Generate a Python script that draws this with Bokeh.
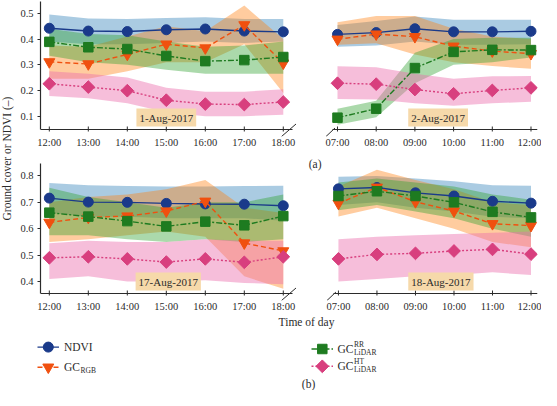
import numpy as np
from bokeh.plotting import figure
from bokeh.layouts import row, column
from bokeh.models import FixedTicker, Label, Range1d
from bokeh.core.properties import value
from bokeh.embed import file_html
from bokeh.resources import INLINE

FONT = "Liberation Serif"
INK = "#2b2b2b"

# ---------------- data ----------------
hours_pm = [12, 13, 14, 15, 16, 17, 18]
ticks_pm = ["12:00", "13:00", "14:00", "15:00", "16:00", "17:00", "18:00"]
hours_am = [7, 8, 9, 10, 11, 12]
ticks_am = ["07:00", "08:00", "09:00", "10:00", "11:00", "12:00"]
dates = ["1-Aug-2017", "2-Aug-2017", "17-Aug-2017", "18-Aug-2017"]
yticks_top = [0.1, 0.2, 0.3, 0.4, 0.5]
yticks_bot = [0.4, 0.5, 0.6, 0.7, 0.8]

# 1-Aug-2017
ndvi1 = [0.442, 0.431, 0.429, 0.436, 0.439, 0.431, 0.428]
ndvi1_lo = [0.39, 0.38, 0.38, 0.385, 0.39, 0.385, 0.39]
ndvi1_hi = [0.495, 0.48, 0.478, 0.482, 0.485, 0.478, 0.478]
rgb1 = [0.311, 0.303, 0.34, 0.38, 0.365, 0.455, 0.306]
rgb1_lo = [0.245, 0.245, 0.275, 0.31, 0.31, 0.38, 0.19]
rgb1_hi = [0.375, 0.37, 0.41, 0.45, 0.43, 0.53, 0.40]
rr1 = [0.389, 0.368, 0.361, 0.334, 0.314, 0.318, 0.33]
rr1_lo = [0.335, 0.31, 0.30, 0.28, 0.265, 0.265, 0.265]
rr1_hi = [0.44, 0.42, 0.415, 0.39, 0.37, 0.375, 0.39]
ht1 = [0.226, 0.213, 0.199, 0.162, 0.147, 0.145, 0.155]
ht1_lo = [0.178, 0.17, 0.15, 0.115, 0.10, 0.10, 0.105]
ht1_hi = [0.275, 0.265, 0.25, 0.21, 0.195, 0.195, 0.205]

# 2-Aug-2017
ndvi2 = [0.418, 0.425, 0.44, 0.428, 0.428, 0.43]
ndvi2_lo = [0.37, 0.375, 0.39, 0.378, 0.378, 0.38]
ndvi2_hi = [0.455, 0.47, 0.488, 0.475, 0.475, 0.475]
rgb2 = [0.399, 0.419, 0.409, 0.372, 0.353, 0.343]
rgb2_lo = [0.378, 0.384, 0.34, 0.31, 0.295, 0.284]
rgb2_hi = [0.465, 0.49, 0.49, 0.44, 0.41, 0.40]
rr2 = [0.094, 0.129, 0.287, 0.35, 0.358, 0.357]
rr2_lo = [0.066, 0.096, 0.228, 0.30, 0.31, 0.328]
rr2_hi = [0.129, 0.16, 0.347, 0.40, 0.405, 0.405]
ht2 = [0.228, 0.2245, 0.2035, 0.187, 0.20, 0.21]
ht2_lo = [0.167, 0.165, 0.15, 0.14, 0.15, 0.156]
ht2_hi = [0.294, 0.29, 0.265, 0.245, 0.255, 0.256]

# 17-Aug-2017
ndvi3 = [0.716, 0.701, 0.70, 0.696, 0.694, 0.693, 0.687]
ndvi3_lo = [0.66, 0.645, 0.645, 0.64, 0.64, 0.64, 0.63]
ndvi3_hi = [0.773, 0.765, 0.762, 0.76, 0.76, 0.762, 0.763]
rgb3 = [0.624, 0.643, 0.648, 0.667, 0.704, 0.546, 0.516]
rgb3_lo = [0.55, 0.56, 0.575, 0.59, 0.57, 0.42, 0.373]
rgb3_hi = [0.70, 0.72, 0.73, 0.75, 0.785, 0.68, 0.66]
rr3 = [0.661, 0.646, 0.629, 0.609, 0.627, 0.613, 0.648]
rr3_lo = [0.575, 0.575, 0.56, 0.55, 0.56, 0.55, 0.56]
rr3_hi = [0.755, 0.72, 0.70, 0.68, 0.70, 0.70, 0.73]
ht3 = [0.49, 0.494, 0.486, 0.474, 0.486, 0.473, 0.494]
ht3_lo = [0.41, 0.42, 0.40, 0.40, 0.405, 0.395, 0.39]
ht3_hi = [0.545, 0.555, 0.55, 0.55, 0.56, 0.555, 0.555]

# 18-Aug-2017
ndvi4 = [0.751, 0.756, 0.736, 0.724, 0.704, 0.697]
ndvi4_lo = [0.69, 0.70, 0.68, 0.665, 0.645, 0.64]
ndvi4_hi = [0.797, 0.80, 0.79, 0.78, 0.765, 0.763]
rgb4 = [0.696, 0.757, 0.702, 0.667, 0.619, 0.612]
rgb4_lo = [0.646, 0.68, 0.64, 0.60, 0.55, 0.53]
rgb4_hi = [0.76, 0.823, 0.785, 0.75, 0.70, 0.69]
rr4 = [0.724, 0.742, 0.724, 0.70, 0.664, 0.643]
rr4_lo = [0.67, 0.69, 0.665, 0.64, 0.60, 0.57]
rr4_hi = [0.775, 0.79, 0.775, 0.76, 0.73, 0.71]
ht4 = [0.486, 0.503, 0.507, 0.516, 0.522, 0.504]
ht4_lo = [0.40, 0.41, 0.42, 0.425, 0.435, 0.425]
ht4_hi = [0.56, 0.57, 0.575, 0.58, 0.585, 0.59]

# ---------------- styles ----------------
ORDER = ["ndvi", "rgb", "rr", "ht"]
STYLE = {
    "ndvi": dict(color="#1a3a8a", band="#1f77b4", alpha=0.38, marker="circle", size=10, angle=0.0, dash="solid"),
    "rgb": dict(color="#f0500f", band="#ff7f0e", alpha=0.40, marker="inverted_triangle", size=11, angle=0.0, dash="5 3"),
    "rr": dict(color="#1e7b20", band="#2ca02c", alpha=0.40, marker="square", size=9.5, angle=0.0, dash="6 2 2 2"),
    "ht": dict(color="#d83f7e", band="#ec6fae", alpha=0.45, marker="square", size=9, angle=np.pi / 4, dash="2 2"),
}


def pack(mid, lo, hi):
    return dict(mid=mid, lo=lo, hi=hi)


panel_data = [
    dict(ndvi=pack(ndvi1, ndvi1_lo, ndvi1_hi), rgb=pack(rgb1, rgb1_lo, rgb1_hi),
         rr=pack(rr1, rr1_lo, rr1_hi), ht=pack(ht1, ht1_lo, ht1_hi)),
    dict(ndvi=pack(ndvi2, ndvi2_lo, ndvi2_hi), rgb=pack(rgb2, rgb2_lo, rgb2_hi),
         rr=pack(rr2, rr2_lo, rr2_hi), ht=pack(ht2, ht2_lo, ht2_hi)),
    dict(ndvi=pack(ndvi3, ndvi3_lo, ndvi3_hi), rgb=pack(rgb3, rgb3_lo, rgb3_hi),
         rr=pack(rr3, rr3_lo, rr3_hi), ht=pack(ht3, ht3_lo, ht3_hi)),
    dict(ndvi=pack(ndvi4, ndvi4_lo, ndvi4_hi), rgb=pack(rgb4, rgb4_lo, rgb4_hi),
         rr=pack(rr4, rr4_lo, rr4_hi), ht=pack(ht4, ht4_lo, ht4_hi)),
]

# ---------------- geometry ----------------
XR_PM = (11.774, 18.236)     # visible axis extent, left panels
XR_AM = (6.871, 12.168)      # visible axis extent, right panels
YR_TOP = (0.048, 0.546)
YR_BOT = (0.355, 0.847)

L_W, R_W = 289, 236          # figure widths
L_FW, R_FW = 252, 205        # visible frame widths
T_H, B_H = 152, 162          # figure heights
T_FH, B_FH = 128, 130        # visible frame heights
T_BT, B_BT = 1, 11           # top borders
EXT_B = 7                    # frame extension below axis (room for break marks)
EXT_R = 4                    # left panels: extension to the right
EXT_L = 8                    # right panels: extension to the left
L_BL = 24
R_BR = 4


def style_xaxis(ax):
    ax.axis_line_color = None
    ax.major_tick_line_color = None
    ax.minor_tick_line_color = None
    ax.major_tick_out = 0
    ax.major_tick_in = 0
    ax.major_label_text_font = FONT
    ax.major_label_text_font_size = "10.5px"
    ax.major_label_text_color = INK
    ax.major_label_standoff = 0


def style_yaxis(ax):
    ax.axis_line_color = INK
    ax.axis_line_width = 1.2
    ax.major_tick_line_color = INK
    ax.major_tick_out = 3
    ax.major_tick_in = 0
    ax.minor_tick_line_color = None
    ax.major_label_text_font = FONT
    ax.major_label_text_font_size = "10.5px"
    ax.major_label_text_color = INK
    ax.major_label_standoff = 4


def panel(hours, ticks, data, xr_vis, yr_vis, yticks, width, height, fw, fh, bt,
          left_side, date, date_x):
    ppx = fw / (xr_vis[1] - xr_vis[0])
    ppy = fh / (yr_vis[1] - yr_vis[0])
    if left_side:
        xr = (xr_vis[0], xr_vis[1] + EXT_R / ppx)
        bl = L_BL
        br = width - bl - fw - EXT_R
    else:
        xr = (xr_vis[0] - EXT_L / ppx, xr_vis[1])
        br = R_BR
        bl = width - br - fw - EXT_L
    yr = (yr_vis[0] - EXT_B / ppy, yr_vis[1])
    bb = height - bt - fh - EXT_B
    p = figure(width=width, height=height, x_range=Range1d(*xr), y_range=Range1d(*yr),
               output_backend="svg", toolbar_location=None,
               min_border_left=bl, min_border_right=br, min_border_top=bt, min_border_bottom=bb,
               y_axis_location="left")
    p.outline_line_color = None
    p.grid.visible = False
    p.background_fill_color = "white"
    p.border_fill_color = "white"
    p.xaxis.ticker = FixedTicker(ticks=hours)
    p.xaxis.major_label_overrides = dict(zip(hours, ticks))
    style_xaxis(p.xaxis[0])
    style_yaxis(p.yaxis[0])
    if left_side:
        p.yaxis.ticker = FixedTicker(ticks=yticks)
        p.yaxis.bounds = yr_vis
    else:
        p.yaxis.visible = False

    for key in ORDER:
        s = STYLE[key]
        p.varea(x=hours, y1=data[key]["lo"], y2=data[key]["hi"],
                fill_color=s["band"], fill_alpha=s["alpha"])
    for key in ORDER:
        s = STYLE[key]
        p.line(hours, data[key]["mid"], line_color=s["color"], line_width=1.4, line_dash=s["dash"])
        p.scatter(hours, data[key]["mid"], marker=s["marker"], size=s["size"], angle=s["angle"],
                  fill_color=s["color"], line_color=s["color"])

    # visible x-axis line with small hour ticks, and the "//" axis break
    y0 = yr_vis[0]
    p.segment(x0=[xr_vis[0]], y0=[y0], x1=[xr_vis[1]], y1=[y0], line_color=INK, line_width=1.2)
    p.segment(x0=hours, y0=[y0 - 2 / ppy] * len(hours), x1=hours, y1=[y0 + 3 / ppy] * len(hours),
              line_color=INK, line_width=1)
    if left_side:
        cx = xr_vis[1]
        (dx0, dy0), (dx1, dy1) = (-11, 7), (3.5, -5.5)
    else:
        cx = xr_vis[0]
        (dx0, dy0), (dx1, dy1) = (-6.5, 7), (2.5, -1.5)
    p.segment(x0=[cx + dx0 / ppx], y0=[y0 - dy0 / ppy],
              x1=[cx + dx1 / ppx], y1=[y0 - dy1 / ppy],
              line_color=INK, line_width=1)

    p.add_layout(Label(x=date_x, y=y0, text=date, text_align="center", text_baseline="bottom",
                       text_font=FONT, text_font_size="11px", text_color=INK,
                       background_fill_color="#f6d9aa", background_fill_alpha=1.0,
                       padding=3, y_offset=3))
    return p


tl = panel(hours_pm, ticks_pm, panel_data[0], XR_PM, YR_TOP, yticks_top, L_W, T_H, L_FW, T_FH, T_BT, True, dates[0], 15.0)
tr = panel(hours_am, ticks_am, panel_data[1], XR_AM, YR_TOP, yticks_top, R_W, T_H, R_FW, T_FH, T_BT, False, dates[1], 9.6)
bl = panel(hours_pm, ticks_pm, panel_data[2], XR_PM, YR_BOT, yticks_bot, L_W, B_H, L_FW, B_FH, B_BT, True, dates[2], 15.05)
br = panel(hours_am, ticks_am, panel_data[3], XR_AM, YR_BOT, yticks_bot, R_W, B_H, R_FW, B_FH, B_BT, False, dates[3], 9.66)

# panel tag "(a)" drawn as the lone tick label of the lower-right panel's y-axis
a_tick = YR_BOT[1] - 0.0005
br.yaxis.visible = True
br.yaxis.ticker = FixedTicker(ticks=[a_tick])
br.yaxis.major_label_overrides = {a_tick: "(a)"}
br.yaxis.axis_line_color = None
br.yaxis.major_tick_line_color = None
br.yaxis.major_tick_out = 0
br.yaxis.major_label_standoff = 4
br.yaxis.major_label_text_font_size = "11.5px"

# y-axis title strip
YH = T_H + B_H
ylab = figure(width=16, height=YH, x_range=Range1d(0, 16), y_range=Range1d(0, YH),
              output_backend="svg", toolbar_location=None, min_border=0,
              x_axis_location=None, y_axis_location=None)
ylab.outline_line_color = None
ylab.grid.visible = False
ylab.text(x=[6], y=[YH - 158], text=["Ground cover or NDVI (–)"], angle=np.pi / 2,
          text_align="center", text_baseline="middle", text_font=value(FONT),
          text_font_size="11.5px", text_color=INK)

# bottom strip: x title, legend, (b)
LH = 390 - YH
leg = figure(width=541, height=LH, x_range=Range1d(0, 541), y_range=Range1d(LH, 0),
             output_backend="svg", toolbar_location=None, min_border=0,
             x_axis_location=None, y_axis_location=None)
leg.outline_line_color = None
leg.grid.visible = False


def txt(x, y, t, size="11.5px", align="left"):
    leg.text(x=[x], y=[y], text=[t], text_align=align, text_baseline="middle",
             text_font=value(FONT), text_font_size=size, text_color=INK)


txt(306, 7.6, "Time of day", align="center")
txt(308, 69, "(b)", align="center")

legend_rows = [("ndvi", 47.8, 37, 58.5, 32.6), ("rgb", 47.8, 37, 58.5, 52.7),
               ("rr", 321.8, 311, 332.5, 34.5), ("ht", 321.8, 311, 332.5, 51.8)]
for key, mx, x0, x1, yy in legend_rows:
    s = STYLE[key]
    leg.line([x0, x1], [yy, yy], line_color=s["color"], line_width=1.4, line_dash=s["dash"])
    leg.scatter([mx], [yy], marker=s["marker"], size=s["size"], angle=s["angle"],
                fill_color=s["color"], line_color=s["color"])

txt(63.4, 32.6, "NDVI")
txt(63.4, 52.7, "GC")
txt(80.0, 55.5, "RGB", size="7.5px")
txt(336.9, 34.5, "GC")
txt(353.5, 30.0, "RR", size="7.5px")
txt(353.5, 38.0, "LiDAR", size="7.5px")
txt(336.9, 51.8, "GC")
txt(353.5, 47.3, "HT", size="7.5px")
txt(353.5, 55.3, "LiDAR", size="7.5px")

layout = column(row(ylab, column(row(tl, tr), row(bl, br))), leg)

open("out.html", "w").write(file_html(layout, INLINE))
